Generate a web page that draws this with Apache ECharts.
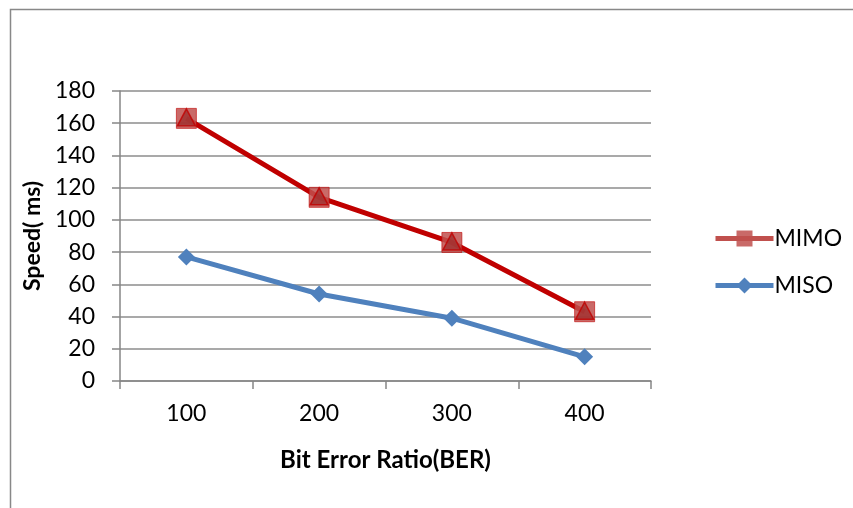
<!DOCTYPE html>
<html><head><meta charset="utf-8">
<script src="https://cdn.jsdelivr.net/npm/echarts@6/dist/echarts.min.js"></script>
<style>html,body{margin:0;padding:0;background:#fff}#c{width:853px;height:508px}</style>
</head><body><div id="c"></div>
<script>
const categories = ['100', '200', '300', '400'];
const mimo = [163, 114, 86, 43];
const miso = [77, 54, 39, 15];
const yTicks = [0, 20, 40, 60, 80, 100, 120, 140, 160, 180];

const font = 'Lato, "Open Sans", sans-serif';
const chart = echarts.init(document.getElementById('c'));
chart.setOption({
  animation: false,
  backgroundColor: '#fff',
  graphic: [{
    type: 'rect', left: 8, top: 7, shape: { width: 900, height: 600 },
    style: { fill: 'none', stroke: '#888', lineWidth: 1.5 }, silent: true
  }],
  grid: { left: 120, right: 202, top: 91, bottom: 127 },
  legend: {
    orient: 'vertical', left: 708, top: 222, itemGap: 24,
    itemWidth: 58, itemHeight: 20,
    textStyle: { fontFamily: font, fontSize: 23, color: '#000', padding: [0, 0, 0, -4] },
    data: [
      { name: 'MIMO', lineStyle: { width: 5, color: '#C0504D' }, itemStyle: { borderWidth: 0 } },
      { name: 'MISO', lineStyle: { width: 5, color: '#4F81BD' } }
    ]
  },
  xAxis: {
    type: 'category', data: categories, boundaryGap: true,
    name: 'Bit Error Ratio(BER)', nameLocation: 'middle', nameGap: 67,
    nameTextStyle: { fontFamily: font, fontSize: 24, fontWeight: 'bold', color: '#000' },
    axisLine: { lineStyle: { color: '#868686', width: 1.5 } },
    axisTick: { show: true, length: 8, lineStyle: { color: '#868686', width: 1.5 } },
    axisLabel: { fontFamily: font, fontSize: 23, color: '#000', margin: 21 }
  },
  yAxis: {
    type: 'value', min: 0, max: 180, interval: 20,
    name: 'Speed( ms)', nameLocation: 'middle', nameGap: 75, nameRotate: 90,
    nameTextStyle: { fontFamily: font, fontSize: 23, fontWeight: 'bold', color: '#000' },
    axisLine: { show: true, lineStyle: { color: '#868686', width: 1.5 } },
    axisTick: { show: true, inside: false, length: 8, lineStyle: { color: '#868686', width: 1.5 } },
    axisLabel: { fontFamily: font, fontSize: 23, color: '#000', margin: 25,
      formatter: v => yTicks.includes(v) ? String(v) : '' },
    splitLine: { lineStyle: { color: '#8c8c8c', width: 1.5 } }
  },
  series: [
    {
      name: 'MIMO', type: 'line', data: mimo,
      lineStyle: { color: '#C00000', width: 5 },
      itemStyle: { color: 'rgba(192,80,77,0.85)', borderColor: 'rgba(192,0,0,0.6)', borderWidth: 1 },
      symbol: 'rect', symbolSize: 20, z: 3
    },
    {
      name: 'MIMO-tri', type: 'scatter', data: mimo,
      symbol: 'triangle', symbolSize: [18, 17], symbolOffset: [0, -1],
      itemStyle: { color: '#A0302E', borderColor: '#C00000', borderWidth: 1.5 }, z: 4
    },
    {
      name: 'MISO', type: 'line', data: miso,
      lineStyle: { color: '#4F81BD', width: 5 },
      itemStyle: { color: '#4F81BD' },
      symbol: 'diamond', symbolSize: 17, z: 3
    }
  ]
});
</script></body></html>
